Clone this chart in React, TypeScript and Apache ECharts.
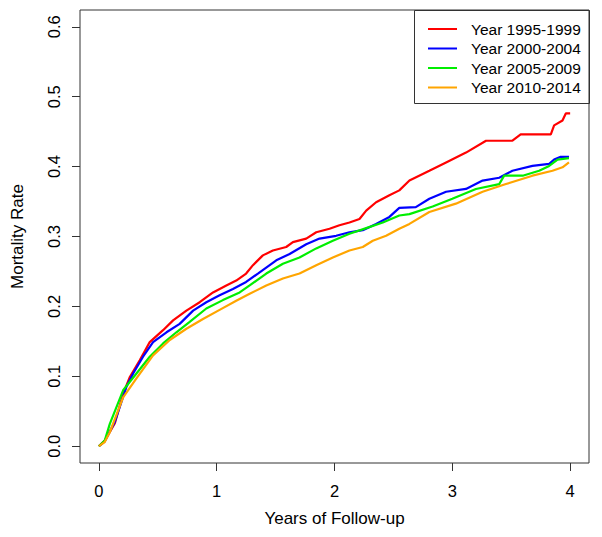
import React, { useEffect, useRef } from "react";
import * as echarts from "echarts";

const seriesNames = ["Year 1995-1999", "Year 2000-2004", "Year 2005-2009", "Year 2010-2014"];
const seriesColors = ["#FF0000", "#0000FF", "#00EE00", "#FFA500"];
const xTicks = [0, 1, 2, 3, 4];
const yTicks = [0, 0.1, 0.2, 0.3, 0.4, 0.5, 0.6];

const red1995: number[][] = [
  [0, 0], [0.05, 0.008], [0.136, 0.033], [0.206, 0.075], [0.263, 0.099], [0.347, 0.123],
  [0.432, 0.149], [0.545, 0.166], [0.63, 0.18], [0.743, 0.194], [0.856, 0.206], [0.969, 0.22],
  [1.082, 0.23], [1.166, 0.237], [1.25, 0.247], [1.308, 0.259], [1.392, 0.273], [1.477, 0.28],
  [1.59, 0.285], [1.647, 0.292], [1.76, 0.297], [1.845, 0.306], [1.958, 0.311], [2.042, 0.316],
  [2.127, 0.32], [2.212, 0.325], [2.269, 0.337], [2.353, 0.349], [2.466, 0.359], [2.55, 0.366],
  [2.636, 0.38], [2.805, 0.394], [2.947, 0.406], [3.116, 0.42], [3.286, 0.437], [3.51, 0.437],
  [3.58, 0.446], [3.836, 0.446], [3.864, 0.459], [3.935, 0.466], [3.963, 0.476], [4.0, 0.476],
];
const blue2000: number[][] = [
  [0, 0], [0.05, 0.007], [0.136, 0.035], [0.234, 0.085], [0.291, 0.104], [0.375, 0.128],
  [0.46, 0.149], [0.574, 0.163], [0.686, 0.175], [0.8, 0.194], [0.912, 0.206], [1.025, 0.216],
  [1.138, 0.225], [1.25, 0.235], [1.35, 0.247], [1.506, 0.266], [1.619, 0.275], [1.76, 0.289],
  [1.873, 0.297], [2.014, 0.301], [2.127, 0.306], [2.24, 0.309], [2.353, 0.318], [2.466, 0.328],
  [2.55, 0.341], [2.69, 0.342], [2.805, 0.354], [2.947, 0.364], [3.116, 0.368], [3.257, 0.38],
  [3.398, 0.384], [3.51, 0.394], [3.68, 0.401], [3.822, 0.404], [3.864, 0.41], [3.92, 0.414],
  [3.99, 0.414],
];
const green2005: number[][] = [
  [0, 0], [0.05, 0.008], [0.093, 0.032], [0.206, 0.08], [0.319, 0.104], [0.432, 0.128],
  [0.545, 0.147], [0.658, 0.163], [0.771, 0.178], [0.912, 0.197], [1.053, 0.209], [1.195, 0.22],
  [1.28, 0.23], [1.421, 0.247], [1.562, 0.261], [1.703, 0.27], [1.845, 0.283], [1.986, 0.294],
  [2.127, 0.304], [2.269, 0.312], [2.41, 0.32], [2.55, 0.33], [2.636, 0.332], [2.833, 0.343],
  [3.0, 0.354], [3.2, 0.368], [3.398, 0.375], [3.44, 0.387], [3.597, 0.387], [3.737, 0.394],
  [3.822, 0.401], [3.893, 0.41], [3.99, 0.412],
];
const orange2010: number[][] = [
  [0, 0], [0.05, 0.006], [0.093, 0.02], [0.206, 0.07], [0.319, 0.097], [0.46, 0.13],
  [0.602, 0.152], [0.743, 0.168], [0.884, 0.182], [1.025, 0.195], [1.166, 0.208], [1.28, 0.218],
  [1.421, 0.23], [1.562, 0.24], [1.703, 0.247], [1.845, 0.259], [1.986, 0.27], [2.127, 0.28],
  [2.24, 0.285], [2.325, 0.294], [2.438, 0.301], [2.55, 0.311], [2.636, 0.318], [2.805, 0.335],
  [3.03, 0.347], [3.257, 0.364], [3.455, 0.375], [3.68, 0.387], [3.85, 0.394], [3.935, 0.399],
  [3.99, 0.406],
];

const seriesData = [red1995, blue2000, green2005, orange2010];

const FONT = "Liberation Sans, Arial, sans-serif";

export default function App() {
  const ref = useRef<HTMLDivElement>(null);
  useEffect(() => {
    if (!ref.current) return;
    const chart = echarts.init(ref.current, undefined, { renderer: "svg" });
    chart.setOption({
      animation: false,
      backgroundColor: "#fff",
      grid: {
        left: 80, top: 10, right: 13, bottom: 74,
        show: true, borderColor: "#333", borderWidth: 1, backgroundColor: "transparent",
      },
      xAxis: {
        type: "value", min: -0.16, max: 4.16,
        name: "Years of Follow-up", nameLocation: "middle", nameGap: 47,
        nameTextStyle: { fontFamily: FONT, fontSize: 17, color: "#000" },
        axisLine: { show: false, onZero: false },
        splitLine: { show: false },
        axisTick: { show: true, inside: false, length: 8, customValues: xTicks, lineStyle: { color: "#333" } },
        axisLabel: {
          customValues: xTicks, margin: 19, fontFamily: FONT, fontSize: 16.5, color: "#000",
          formatter: (v: number) => String(v),
        },
      },
      yAxis: {
        type: "value", min: -0.024, max: 0.624,
        name: "Mortality Rate", nameLocation: "middle", nameGap: 54,
        nameTextStyle: { fontFamily: FONT, fontSize: 17, color: "#000" },
        axisLine: { show: false, onZero: false },
        splitLine: { show: false },
        axisTick: { show: true, inside: false, length: 8, customValues: yTicks, lineStyle: { color: "#333" } },
        axisLabel: {
          customValues: yTicks, rotate: 90, margin: 18, fontFamily: FONT, fontSize: 16.5, color: "#000",
          formatter: (v: number) => v.toFixed(1),
        },
      },
      legend: {
        orient: "vertical", left: 428, top: 21, padding: 0, itemGap: 3.5,
        itemWidth: 29, itemHeight: 2, icon: "rect",
        data: seriesNames,
        textStyle: { fontFamily: FONT, fontSize: 15.5, color: "#000", padding: [0, 0, 0, 9] },
      },
      graphic: [
        {
          type: "rect", left: 414, top: 10, silent: true,
          shape: { width: 175, height: 93 },
          style: { fill: "#fff", stroke: "#333", lineWidth: 1 },
          z: -1,
        },
      ],
      series: seriesData.map((d, i) => ({
        name: seriesNames[i],
        type: "line",
        data: d,
        showSymbol: false,
        symbol: "none",
        color: seriesColors[i],
        lineStyle: { color: seriesColors[i], width: 2.2 },
      })),
    });
    return () => chart.dispose();
  }, []);
  return <div ref={ref} style={{ position: "fixed", left: 0, top: 0, width: 602, height: 537 }} />;
}
